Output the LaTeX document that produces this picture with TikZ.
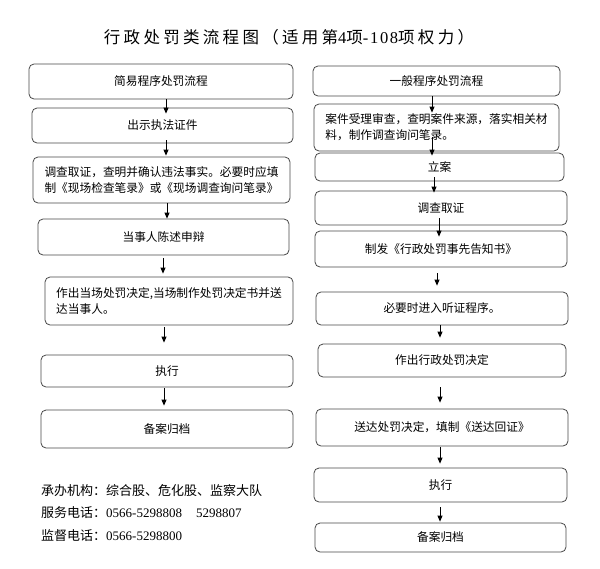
\documentclass[tikz,border=0pt]{standalone}
\usepackage{fontspec}
\setmainfont{Liberation Serif}
\newfontfamily\cjk{Noto Sans CJK SC}
\newfontfamily\cjkt{Noto Sans CJK SC}[LetterSpace=20]
\newfontfamily\latt{Liberation Serif}[LetterSpace=10]
\usetikzlibrary{arrows.meta,calc}
\begin{document}
\begin{tikzpicture}[x=1pt,y=-1pt,
  box/.style={draw=black!72,line width=0.8pt,rounded corners=5pt,inner sep=0pt,
    font=\fontsize{11.7}{16}\cjk,align=center},
  mbox/.style={box,align=left},
  arr/.style={draw=black,line width=0.8pt,-{Triangle[length=6pt,width=5pt]}},
  foot/.style={anchor=west,inner sep=0pt,font=\fontsize{13}{15}\cjk}]
\useasboundingbox (0,0) rectangle (600,568);
\fill[white] (0,0) rectangle (600,568);
% title
\node[inner sep=0pt] (title) at (289,37) {\fontsize{16.5}{20}\cjkt 行政处罚类流程图（适用第{\latt 4}项{\latt -108}项权力）};
% left column
\node[box,minimum width=264,minimum height=35] (L1) at (161,81.5) {简易程序处罚流程};
\node[box,minimum width=261,minimum height=35] (L2) at (162.5,125.5) {出示执法证件};
\node[mbox,minimum width=257,minimum height=46] (L3) at (161.5,180) {调查取证，查明并确认违法事实。必要时应填\\制《现场检查笔录》或《现场调查询问笔录》};
\node[box,minimum width=251,minimum height=36] (L4) at (163.5,237) {当事人陈述申辩};
\node[mbox,minimum width=248,minimum height=48] (L5) at (169,301) {作出当场处罚决定,当场制作处罚决定书并送\\达当事人。};
\node[box,minimum width=252,minimum height=32] (L6) at (167,371) {执行};
\node[box,minimum width=252,minimum height=38] (L7) at (167,429) {备案归档};
% right column
\node[box,minimum width=247,minimum height=30] (R1) at (436.5,81) {一般程序处罚流程};
\node[mbox,minimum width=245,minimum height=47] (R2) at (436.5,127.5) {案件受理审查，查明案件来源，落实相关材\\料，制作调查询问笔录。};
\node[box,minimum width=249,minimum height=28] (R3) at (439.5,167) {立案};
\node[box,minimum width=252,minimum height=34] (R4) at (441,208) {调查取证};
\node[box,minimum width=252,minimum height=36] (R5) at (441,249) {制发《行政处罚事先告知书》};
\node[box,minimum width=252,minimum height=33] (R6) at (442,308.5) {必要时进入听证程序。};
\node[box,minimum width=248,minimum height=33] (R7) at (442,360.5) {作出行政处罚决定};
\node[box,minimum width=252,minimum height=37] (R8) at (442,427.5) {送达处罚决定，填制《送达回证》};
\node[box,minimum width=253,minimum height=34] (R9) at (440.5,485) {执行};
\node[box,minimum width=251,minimum height=29] (R10) at (440.5,537.5) {备案归档};
% footer
\node[foot] (f1) at (41,491) {承办机构：综合股、危化股、监察大队};
\node[foot] (f2) at (41,513) {服务电话：{\rmfamily 0566-5298808\hspace{14pt}5298807}};
\node[foot] (f3) at (41,536) {监督电话：{\rmfamily 0566-5298800}};
% arrows left
\coordinate (a1) at ($(L1.south)+(5,0)$);
\draw[arr] (a1) -- ($(a1 |- L2.north)+(0,6)$);
\coordinate (a2) at ($(L2.south)+(3.5,-3)$);
\draw[arr] (a2) -- ($(a2 |- L3.north)+(0,-1)$);
\coordinate (a3) at ($(L3.south)+(5.5,0)$);
\draw[arr] (a3) -- (a3 |- L4.north);
\coordinate (a4) at ($(L4.south)+(-0.5,3)$);
\draw[arr] (a4) -- ($(a4 |- L5.north)+(0,-3)$);
\coordinate (a5) at ($(L5.south)+(-5,2)$);
\draw[arr] (a5) -- ($(a5 |- L6.north)+(0,-12)$);
\coordinate (a6) at ($(L6.south)+(-3,1)$);
\draw[arr] (a6) -- ($(a6 |- L7.north)+(0,-4)$);
% arrows right
\coordinate (b1) at ($(R1.south)+(-4.5,0)$);
\draw[arr] (b1) -- ($(b1 |- R2.north)+(0,9)$);
\coordinate (b2) at ($(R2.south)+(-4.5,-14)$);
\draw[arr] (b2) -- ($(b2 |- R3.north)+(0,3)$);
\coordinate (b3) at ($(R3.south)+(-5.5,-4)$);
\draw[arr] (b3) -- ($(b3 |- R4.north)+(0,2)$);
\coordinate (b4) at ($(R4.south)+(-2,-7)$);
\draw[arr] (b4) -- ($(b4 |- R5.north)+(0,6)$);
\coordinate (b5) at ($(R5.south)+(-4,6)$);
\draw[arr] (b5) -- ($(b5 |- R6.north)+(0,-6)$);
\coordinate (b6) at ($(R6.south)+(-2,0)$);
\draw[arr] (b6) -- ($(b6 |- R7.north)+(0,-6)$);
\coordinate (b7) at ($(R7.south)+(-2,10)$);
\draw[arr] (b7) -- ($(b7 |- R8.north)+(0,-6)$);
\coordinate (b8) at ($(R8.south)+(-2,1)$);
\draw[arr] (b8) -- ($(b8 |- R9.north)+(0,-4)$);
\coordinate (b9) at ($(R9.south)+(-0.5,5)$);
\draw[arr] (b9) -- ($(b9 |- R10.north)+(0,-1)$);
\end{tikzpicture}
\end{document}
